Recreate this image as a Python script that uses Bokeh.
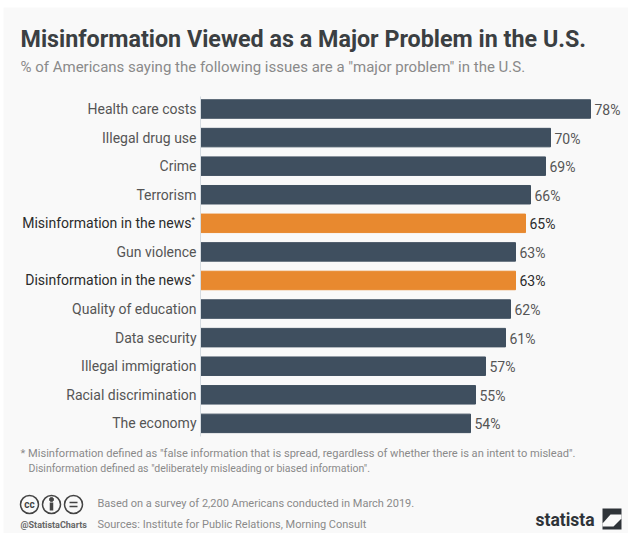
from bokeh.core.properties import value
from bokeh.embed import file_html
from bokeh.models import ColumnDataSource, Range1d
from bokeh.plotting import figure
from bokeh.resources import INLINE

# Survey results, top row first
categories = [
    "Health care costs", "Illegal drug use", "Crime", "Terrorism",
    "Misinformation in the news", "Gun violence", "Disinformation in the news",
    "Quality of education", "Data security", "Illegal immigration",
    "Racial discrimination", "The economy",
]
percentages = [78, 70, 69, 66, 65, 63, 63, 62, 61, 57, 55, 54]
highlighted = ["Misinformation in the news", "Disinformation in the news"]

TITLE = "Misinformation Viewed as a Major Problem in the U.S."
SUBTITLE = '% of Americans saying the following issues are a "major problem" in the U.S.'
NOTE_1 = '* Misinformation defined as "false information that is spread, regardless of whether there is an intent to mislead".'
NOTE_2 = 'Disinformation defined as "deliberately misleading or biased information".'
SURVEY = "Based on a survey of 2,200 Americans conducted in March 2019."
SOURCES = "Sources: Institute for Public Relations, Morning Consult"
HANDLE = "@StatistaCharts"
BRAND = "statista"

WIDTH, HEIGHT = 628, 533
NAVY, ORANGE = "#3f4f5f", "#e8892f"
FONT = "Roboto"
PANEL = "#f9f9f9"
MARK = "#2e3338"

# One percentage point is 5 px, zero sits at px 200; rows are 28.58 px apart
X0, PX_PER_PCT = 200, 5
Y0, ROW = 108.5, 28.58


def fx(px):
    return (px - X0) / PX_PER_PCT


def fy(py):
    return (py - Y0) / ROW


p = figure(
    width=WIDTH, height=HEIGHT, output_backend="svg", toolbar_location=None,
    x_range=Range1d(fx(0), fx(WIDTH)), y_range=Range1d(fy(HEIGHT), fy(0)),
    min_border=0, background_fill_color="white", border_fill_color="white",
    outline_line_color=None,
)
p.axis.visible = False
p.grid.visible = False


def put(px, py, text, size, color, align="left", style="normal", font=FONT):
    p.text(
        [fx(px)], [fy(py)], text=[text], text_font=value(font),
        text_font_size=f"{size}px", text_color=color, text_align=align,
        text_baseline="middle", text_font_style=style,
    )


# Panel behind everything
p.quad(left=[fx(3)], right=[fx(628)], top=[fy(7)], bottom=[fy(533)],
       fill_color=PANEL, line_color=None)

rows = list(range(len(categories)))
colors = [ORANGE if c in highlighted else NAVY for c in categories]
source = ColumnDataSource(dict(y=rows, pct=percentages, color=colors))

p.hbar(y="y", left=0, right="pct", height=18.5 / ROW, color="color", source=source)
p.segment([0], [fy(96)], [0], [fy(436)], line_color="#d5dbe0", line_width=1)

for row, (name, pct) in enumerate(zip(categories, percentages)):
    is_hi = name in highlighted
    text_color = "#2b2b2b" if is_hi else "#555555"
    py = Y0 + row * ROW
    if is_hi:
        put(191, py, name, 14, text_color, "right")
        put(191, py - 4, "*", 8, text_color)
    else:
        put(196, py, name, 14, text_color, "right")
    put(X0 + pct * PX_PER_PCT + 4, py + 1, f"{pct}%", 14, text_color)

put(20, 38, TITLE, 23.3, "#3b3f42", style="bold")
put(20, 66, SUBTITLE, 15, "#8a8a8a")
put(20, 453, NOTE_1, 11.1, "#8a8a8a")
put(28, 468, NOTE_2, 10.5, "#8a8a8a")
put(97, 503, SURVEY, 11, "#8a8a8a")
put(97, 524, SOURCES, 11, "#8a8a8a")
put(20, 524, HANDLE, 9, "#666666", style="bold")

# Licence badges
badge_x = [29, 51, 73]
p.scatter([fx(x) for x in badge_x], [fy(504)] * 3, size=18, marker="circle",
          fill_color=PANEL, line_color="#444444", line_width=1.5)
put(29, 504, "cc", 10, "#444444", "center", "bold")
p.scatter([fx(51)], [fy(499)], size=4, marker="circle", color="#444444")
p.segment([fx(51)], [fy(502)], [fx(51)], [fy(510)], line_color="#444444", line_width=3.5)
p.segment([fx(69), fx(69)], [fy(502), fy(506)], [fx(77), fx(77)], [fy(502), fy(506)],
          line_color="#444444", line_width=1.5)

# Publisher mark
put(535, 519, BRAND, 17.5, MARK, style="bold")
p.quad(left=[fx(602)], right=[fx(621)], top=[fy(508)], bottom=[fy(529)],
       fill_color=MARK, line_color=None)
swoosh_x = (602, 610, 621, 621, 613, 602)
swoosh_y = (523, 514, 514, 518, 526, 526)
p.patch([fx(x) for x in swoosh_x], [fy(y) for y in swoosh_y],
        fill_color=PANEL, line_color=None)

open("out.html", "w").write(file_html(p, INLINE))
